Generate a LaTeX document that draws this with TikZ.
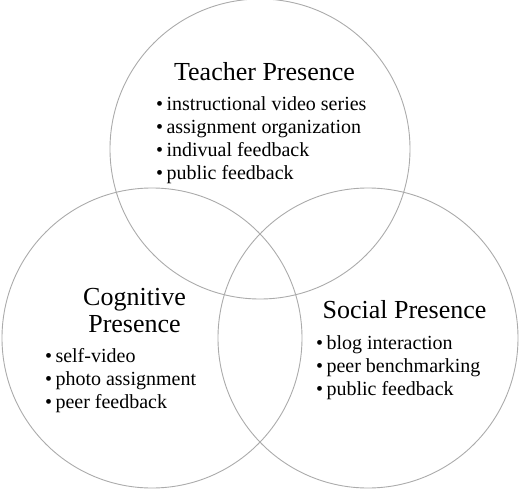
\documentclass[tikz,border=0pt]{standalone}
\usepackage{fontspec}
\setmainfont{Liberation Serif}
\usepackage{tikz}
\usepackage{xcolor}
\usetikzlibrary{positioning}

\begin{document}
\begin{tikzpicture}[x=1pt, y=-1pt,
	venn/.style={circle, draw=black!33, line width=0.9pt, minimum size=300pt, inner sep=0pt},
	heading/.style={font=\fontsize{26}{27}\selectfont, align=center, inner sep=0pt, anchor=base},
	items/.style={font=\fontsize{20}{23}\selectfont, align=left, inner sep=0pt, anchor=base west}]
	\useasboundingbox (0, 0) rectangle (520, 490);

	\node[venn] (teacher) at (260, 149) {};  % top
	\node[venn] (cognitive) at (152, 338) {};  % left
	\node[venn] (social) at (368, 338) {};  % right

	% base is the last line
	\node[heading] (teachertitle) at (264.5, 80) {Teacher Presence};
	\node[items] (teacherlist) at (156, 179) {\textbullet\,instructional video series\\
		\textbullet\,assignment organization\\ \textbullet\,indivual feedback\\ \textbullet\,public feedback};

	\node[heading] (cognitivetitle) at (134.5, 332) {Cognitive\\Presence};
	\node[items] (cognitivelist) at (45, 408) {\textbullet\,self-video\\
		\textbullet\,photo assignment\\ \textbullet\,peer feedback};

	\node[heading] (socialtitle) at (404.5, 318) {Social Presence};
	\node[items] (sociallist) at (316, 395) {\textbullet\,blog interaction\\
		\textbullet\,peer benchmarking\\ \textbullet\,public feedback};

\end{tikzpicture}
\end{document}
